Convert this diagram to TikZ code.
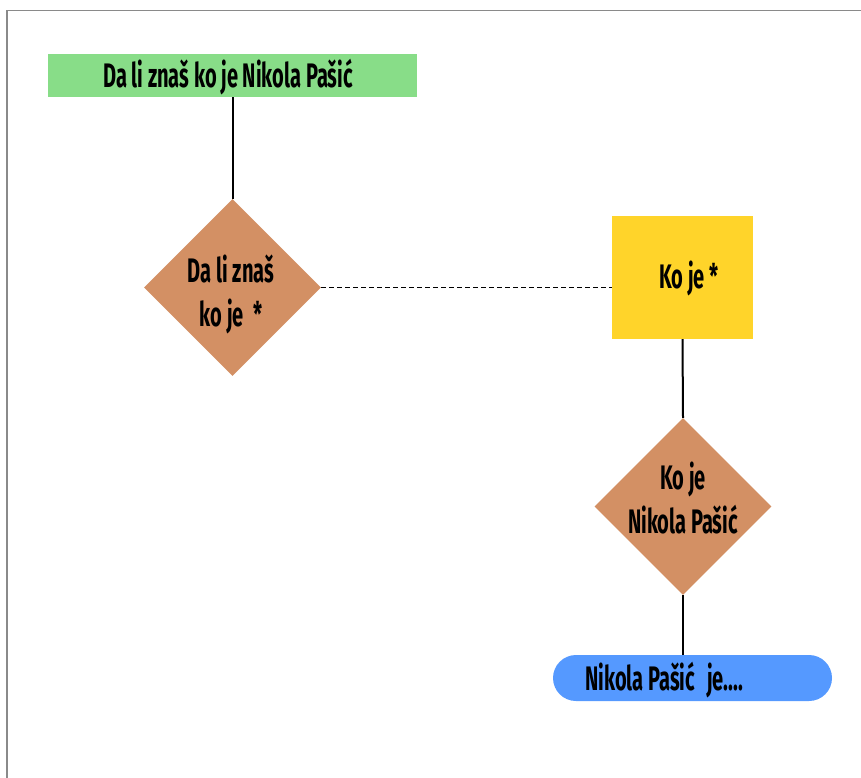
\documentclass[tikz,border=0pt]{standalone}
\usepackage{fontspec}
\usetikzlibrary{shapes.geometric}
\newfontfamily\lblfont{Fira Sans}[FakeStretch=0.59]
\definecolor{boxgreen}{HTML}{88DD88}
\definecolor{boxbrown}{HTML}{D39064}
\definecolor{boxyellow}{HTML}{FFD42A}
\definecolor{boxblue}{HTML}{5599FF}
\definecolor{framegray}{HTML}{8A8A8A}
\tikzset{
  lbl/.style={font=\lblfont\bfseries\fontsize{34}{44}\selectfont, text=black, align=center, inner sep=0pt},
  decision/.style={diamond, aspect=1, fill=boxbrown, draw=none, minimum width=177pt, minimum height=177pt, inner sep=0pt},
  link/.style={draw=black, line width=2pt},
}
\begin{document}
\begin{tikzpicture}[x=1pt, y=-1pt]
\useasboundingbox (0,0) rectangle (861,778);
% frame lines along top and left
\draw[framegray, line width=1.5pt] (7,778) -- (7,10.5) -- (861,10.5);

% boxes
\node[fill=boxgreen, minimum width=369pt, minimum height=43pt, inner sep=0pt] (start) at (232.5,75.5) {};
\node[lbl] (startlbl) at (228,77) {Da li znaš ko je Nikola Pašić};

\node[decision] (q1) at (232.5,287.5) {};
\node[lbl] (q1lbl) at (231,294) {Da li znaš\\ko je\ \ *};

\node[fill=boxyellow, minimum width=141pt, minimum height=123pt, inner sep=0pt] (who) at (682.5,277.5) {};
\node[lbl] (wholbl) at (689,278) {Ko je *};

\node[decision] (q2) at (683,506.5) {};
\node[lbl] (q2lbl) at (683,498) {Ko je\\Nikola Pašić};

\node[fill=boxblue, rounded corners=23pt, minimum width=279pt, minimum height=46pt, inner sep=0pt] (answer) at (692.5,678) {};
\node[lbl] (answerlbl) at (664,680) {Nikola Pašić\hspace{12pt}je....};

% connectors
\draw[link] (start.south) -- (q1.north);
\draw[link, line width=1.3pt, dash pattern=on 5pt off 3pt] (q1.east) -- (q1.east -| who.west);
\draw[link] (who.south) -- (q2.north);
\draw[link] (q2.south) -- (answer.north -| q2.south);
\end{tikzpicture}
\end{document}
